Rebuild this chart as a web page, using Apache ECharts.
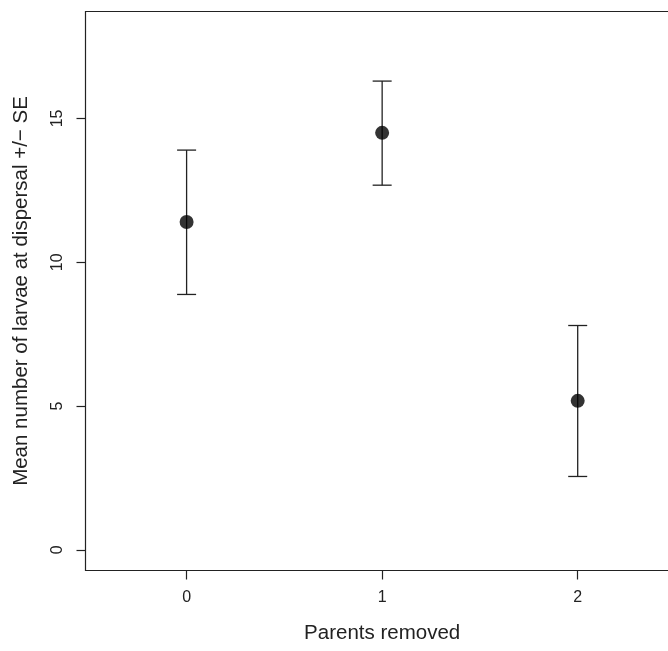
<!DOCTYPE html>
<html>
<head>
<meta charset="utf-8">
<script src="https://cdn.jsdelivr.net/npm/echarts@6/dist/echarts.min.js"></script>
<style>
  html, body { margin: 0; padding: 0; background: #fff; overflow: hidden; }
  /* the plot box in the source runs past the right edge of the picture */
  #chart { width: 680px; height: 651px; }
</style>
</head>
<body>
<div id="chart"></div>
<script>
// parents removed (x), mean larvae, and the +/- SE bounds
const parentsRemoved = [0, 1, 2];
const meanLarvae = [11.4, 14.5, 5.18];
const upperSE = [13.9, 16.3, 7.8];
const lowerSE = [8.88, 12.68, 2.55];
const xTicks = [0, 1, 2];
const yTicks = [0, 5, 10, 15];

const ink = '#222';
const font = 'Liberation Sans, Arial, Helvetica, sans-serif';

const chart = echarts.init(document.getElementById('chart'));

const errorData = parentsRemoved.map((x, i) => [x, lowerSE[i], upperSE[i]]);
const pointData = parentsRemoved.map((x, i) => [x, meanLarvae[i]]);

chart.setOption({
  animation: false,
  backgroundColor: '#fff',
  grid: {
    left: 85.5,
    top: 11.5,
    right: 1.2,
    bottom: 80.5,
    show: true,
    borderColor: ink,
    borderWidth: 1.2,
  },
  xAxis: {
    type: 'value',
    min: -0.517,
    max: 2.517,
    name: 'Parents removed',
    nameLocation: 'middle',
    nameGap: 52,
    nameTextStyle: { fontFamily: font, fontSize: 20.5, color: ink },
    axisLine: { show: false, onZero: false },
    splitLine: { show: false },
    axisTick: {
      show: true,
      length: 9,
      customValues: xTicks,
      lineStyle: { color: ink, width: 1.2 },
    },
    axisLabel: {
      customValues: xTicks,
      margin: 19,
      fontFamily: font,
      fontSize: 16,
      color: ink,
    },
  },
  yAxis: {
    type: 'value',
    min: -0.72,
    max: 18.72,
    name: 'Mean number of larvae at dispersal +/\u2212 SE',
    nameLocation: 'middle',
    nameGap: 54,
    nameTextStyle: { fontFamily: font, fontSize: 20.5, color: ink },
    axisLine: { show: false, onZero: false },
    splitLine: { show: false },
    axisTick: {
      show: true,
      length: 9,
      customValues: yTicks,
      lineStyle: { color: ink, width: 1.2 },
    },
    axisLabel: {
      customValues: yTicks,
      rotate: 90,
      margin: 20,
      fontFamily: font,
      fontSize: 16,
      color: ink,
    },
  },
  series: [
    {
      type: 'custom',
      data: errorData,
      encode: { x: 0, y: [1, 2] },
      renderItem: function (params, api) {
        const lo = api.coord([api.value(0), api.value(1)]);
        const hi = api.coord([api.value(0), api.value(2)]);
        const w = 9.5;
        const style = { stroke: ink, lineWidth: 1.3 };
        return {
          type: 'group',
          children: [
            { type: 'line', shape: { x1: lo[0], y1: lo[1], x2: hi[0], y2: hi[1] }, style },
            { type: 'line', shape: { x1: hi[0] - w, y1: hi[1], x2: hi[0] + w, y2: hi[1] }, style },
            { type: 'line', shape: { x1: lo[0] - w, y1: lo[1], x2: lo[0] + w, y2: lo[1] }, style },
          ],
        };
      },
      z: 2,
    },
    {
      type: 'scatter',
      data: pointData,
      symbol: 'circle',
      symbolSize: 14,
      itemStyle: { color: '#000' },
      z: 3,
    },
  ],
});
</script>
</body>
</html>
